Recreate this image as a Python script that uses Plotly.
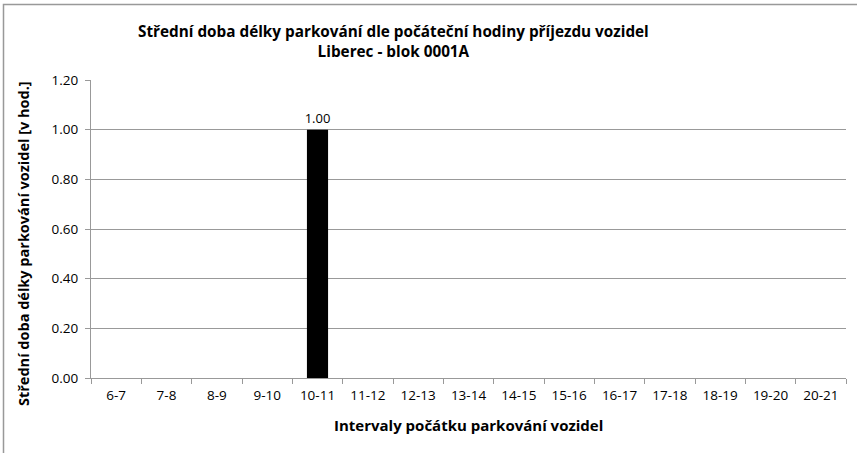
import plotly.graph_objects as go

categories = ["6-7", "7-8", "8-9", "9-10", "10-11", "11-12", "12-13", "13-14",
              "14-15", "15-16", "16-17", "17-18", "18-19", "19-20", "20-21"]
values = [None, None, None, None, 1.00, None, None, None,
          None, None, None, None, None, None, None]
value_labels = ["" if v is None else f"{v:.2f}" for v in values]
title_lines = ["Střední doba délky parkování dle počáteční hodiny příjezdu vozidel",
               "Liberec - blok 0001A"]
x_title = "Intervaly počátku parkování vozidel"
y_title = "Střední doba délky parkování vozidel [v hod.]"
y_ticks = [0.0, 0.2, 0.4, 0.6, 0.8, 1.0, 1.2]

FONT = "Open Sans"
W, H = 857, 453
L, R, T, B = 91, 11, 80, 75
PW, PH = W - L - R, H - T - B
GRAY = "#999999"


def px(xs):  # screen x -> paper
    return (xs - L) / PW


def py(ys):  # screen y -> paper
    return 1 - (ys - T) / PH


fig = go.Figure()
fig.add_trace(go.Bar(
    x=categories, y=values, width=0.42,
    marker=dict(color="#000000", line=dict(width=0)),
    text=value_labels, textposition="outside", cliponaxis=False,
    constraintext="none",
    textfont=dict(family=FONT, size=13, color="#000000"),
))

fig.update_layout(
    width=W, height=H,
    margin=dict(l=L, r=R, t=T, b=B, pad=0, autoexpand=False),
    paper_bgcolor="white", plot_bgcolor="white",
    showlegend=False,
    font=dict(family=FONT, size=13.5, color="#000000"),
    bargap=0.58,
    xaxis=dict(
        type="category", showgrid=False, showline=True, linecolor=GRAY, linewidth=1,
        ticks="outside", ticklen=5, tickcolor=GRAY, tickson="boundaries",
        tickfont=dict(family=FONT, size=13.5), ticklabelstandoff=5,
        range=[-0.5, 14.5], automargin=False,
    ),
    yaxis=dict(
        range=[0, 1.2], tickvals=y_ticks, ticktext=[f"{v:.2f}" for v in y_ticks],
        showgrid=True, gridcolor=GRAY, gridwidth=1,
        showline=True, linecolor=GRAY, linewidth=1,
        ticks="outside", ticklen=5, tickcolor=GRAY, ticklabelstandoff=4,
        tickfont=dict(family=FONT, size=13.5), zeroline=False, automargin=False,
    ),
    shapes=[
        dict(type="rect", xref="paper", yref="paper",
             x0=px(3.5), x1=px(900), y0=py(500), y1=py(4.5),
             line=dict(color=GRAY, width=1.5), fillcolor="rgba(0,0,0,0)", layer="above"),
    ],
    annotations=[
        dict(text="<b>" + title_lines[0] + "</b><br><b>" + title_lines[1] + "</b>",
             xref="paper", yref="paper", x=px(393), y=py(41),
             xanchor="center", yanchor="middle", showarrow=False,
             font=dict(family=FONT, size=15.3, color="#000000")),
        dict(text="<b>" + x_title + "</b>", xref="paper", yref="paper",
             x=0.5, y=py(425),
             xanchor="center", yanchor="middle", showarrow=False,
             font=dict(family=FONT, size=15, color="#000000")),
        dict(text="<b>" + y_title + "</b>", xref="paper", yref="paper",
             x=px(23), y=py(244),
             xanchor="center", yanchor="middle", textangle=-90, showarrow=False,
             font=dict(family=FONT, size=14.5, color="#000000")),
    ],
)

fig.write_html(
    "out.html",
    config={"displayModeBar": False},
    post_script="document.body.style.margin='0';document.body.style.overflow='hidden';",
)
